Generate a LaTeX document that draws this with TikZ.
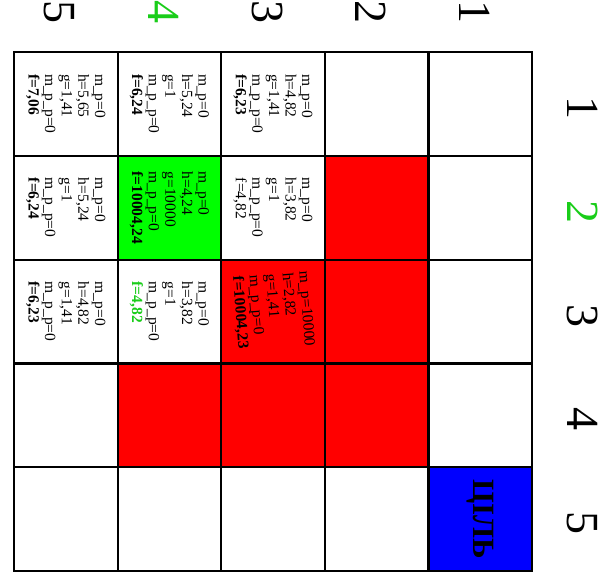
\documentclass[tikz,border=0pt]{standalone}
\usepackage{fontspec}
\setmainfont{Liberation Serif}
\definecolor{cellred}{RGB}{255,0,0}
\definecolor{cellgreen}{RGB}{0,255,0}
\definecolor{cellblue}{RGB}{0,0,255}
\definecolor{lblgreen}{RGB}{25,205,25}
\tikzset{
  cellbox/.style={minimum width=103.6pt, minimum height=103.8pt, inner sep=0pt, outer sep=0pt},
  gridline/.style={draw=black, line width=2.2pt},
  celltext/.style={rotate=-90, align=left, inner sep=0pt, font=\fontsize{15.5}{16.6}\selectfont},
  hdr/.style={rotate=-90, anchor=base, inner sep=0pt, font=\fontsize{46}{50}\selectfont},
  cellfill-2-2/.style={fill=cellred},
  cellfill-2-3/.style={fill=cellred},
  cellfill-3-3/.style={fill=cellred},
  cellfill-2-4/.style={fill=cellred},
  cellfill-3-4/.style={fill=cellred},
  cellfill-4-4/.style={fill=cellred},
  cellfill-4-2/.style={fill=cellgreen},
  cellfill-1-5/.style={fill=cellblue},
}
\begin{document}
\begin{tikzpicture}[x=1pt,y=-1pt]
\path[use as bounding box, fill=white] (0,0) rectangle (605,580);
% cells
\foreach \r in {1,...,5}{
  \foreach \c in {1,...,5}{
    \node[cellbox, cellfill-\r-\c/.try] (cell-\r-\c) at ({532-103.6*(\r-0.5)}, {52+103.8*(\c-0.5)}) {};
  }
}
\foreach \r in {1,...,5}{
  \foreach \c in {1,...,5}{
    \draw[gridline] (cell-\r-\c.south west) rectangle (cell-\r-\c.north east);
  }
}
% row labels (top)
\node[hdr] (lbl-r1) at (459.2,12) {1};
\node[hdr] (lbl-r2) at (355.6,12) {2};
\node[hdr] (lbl-r3) at (252.0,12) {3};
\node[hdr, text=lblgreen] (lbl-r4) at (148.4,12) {4};
\node[hdr] (lbl-r5) at (44.8,12) {5};
% column labels (right)
\node[hdr] (lbl-c1) at (567,107.9) {1};
\node[hdr, text=lblgreen] (lbl-c2) at (567,211.7) {2};
\node[hdr] (lbl-c3) at (567,315.5) {3};
\node[hdr] (lbl-c4) at (567,419.3) {4};
\node[hdr] (lbl-c5) at (567,523.1) {5};
% cell texts
\node[celltext] (t-5-1) at (cell-5-1) {m\_p=0\\h=5,65\\g=1,41\\m\_p\_p=0\\\textbf{f=7,06}};
\node[celltext] (t-4-1) at (cell-4-1) {m\_p=0\\h=5,24\\g=1\\m\_p\_p=0\\\textbf{f=6,24}};
\node[celltext] (t-3-1) at (cell-3-1) {m\_p=0\\h=4,82\\g=1,41\\m\_p\_p=0\\\textbf{f=6,23}};
\node[celltext] (t-5-2) at (cell-5-2) {m\_p=0\\h=5,24\\g=1\\m\_p\_p=0\\\textbf{f=6,24}};
\node[celltext] (t-4-2) at (cell-4-2) {m\_p=0\\h=4,24\\g=10000\\m\_p\_p=0\\\textbf{f=10004,24}};
\node[celltext] (t-3-2) at (cell-3-2) {m\_p=0\\h=3,82\\g=1\\m\_p\_p=0\\f=4,82};
\node[celltext] (t-5-3) at (cell-5-3) {m\_p=0\\h=4,82\\g=1,41\\m\_p\_p=0\\\textbf{f=6,23}};
\node[celltext] (t-4-3) at (cell-4-3) {m\_p=0\\h=3,82\\g=1\\m\_p\_p=0\\\textcolor{lblgreen}{\textbf{f=4,82}}};
\node[celltext, rotate=4.4] (t-3-3) at (cell-3-3) {m\_p=10000\\h=2,82\\g=1,41\\m\_p\_p=0\\\textbf{f=10004,23}};
\node[rotate=-90, inner sep=0pt, font=\bfseries\fontsize{31}{34}\selectfont] (goal) at (cell-1-5) {ЦІЛЬ};
\end{tikzpicture}
\end{document}
